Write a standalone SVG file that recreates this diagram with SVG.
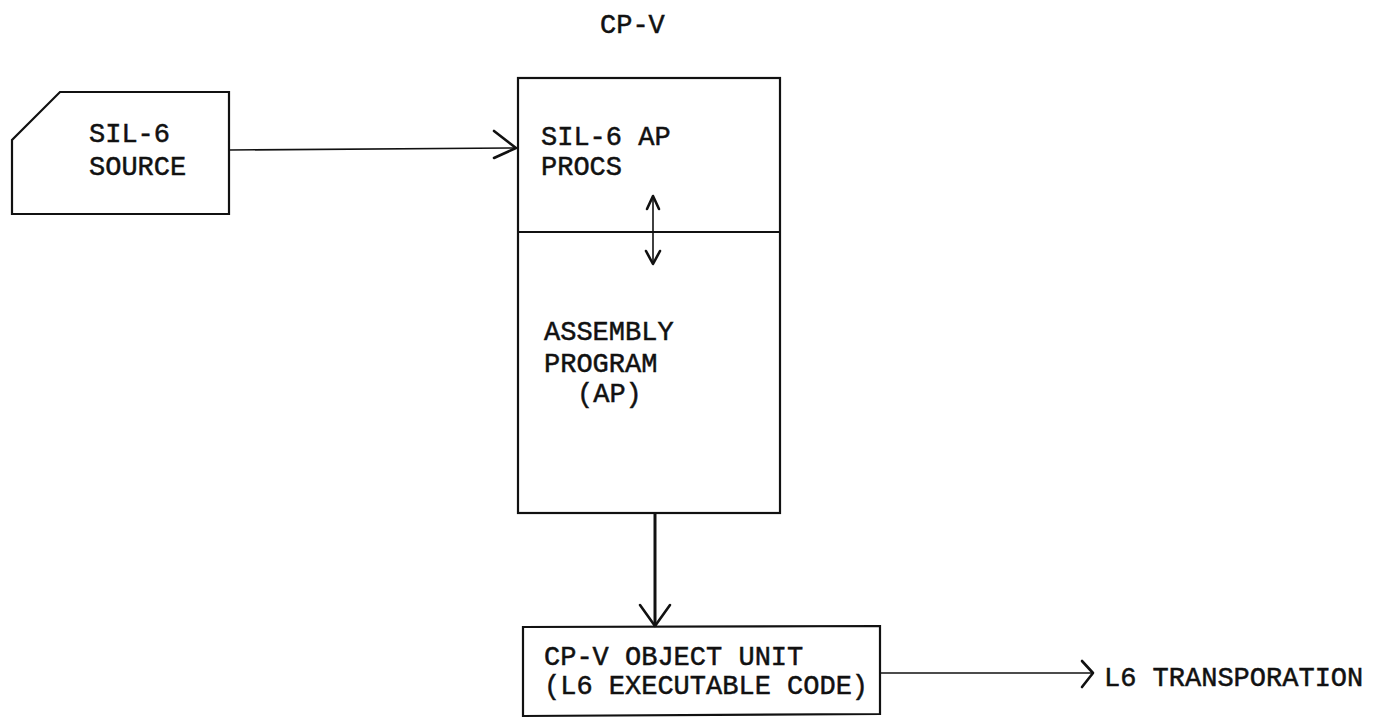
<svg xmlns="http://www.w3.org/2000/svg" width="1379" height="723" viewBox="0 0 1379 723">
<style>
text{font-family:"Liberation Mono","DejaVu Sans Mono",monospace;font-size:27px;fill:#111;stroke:#111;stroke-width:0.5}
.box{fill:none;stroke:#111;stroke-width:2.2}
.ln{fill:none;stroke:#111;stroke-width:1.6}
.div{fill:none;stroke:#111;stroke-width:2}
.thick{fill:none;stroke:#111;stroke-width:3}
.head{fill:none;stroke:#111;stroke-width:2.6;stroke-linecap:round;stroke-linejoin:round}
</style>
<rect width="1379" height="723" fill="#fff"/>
<g id="title"><text x="600" y="33">CP-V</text></g>
<g id="sil6-source">
<path class="box" d="M60,92 L229,92 L229,214 L12,214 L12,140 Z"/>
<text x="89" y="142">SIL-6</text>
<text x="89" y="175">SOURCE</text>
</g>
<g id="cpv-box">
<rect class="box" x="518" y="78" width="262" height="435"/>
<line class="div" x1="518" y1="232" x2="780" y2="232"/>
</g>
<g id="sil6-ap-procs">
<text x="541" y="145">SIL-6 AP</text>
<text x="541" y="175">PROCS</text>
</g>
<g id="assembly-program">
<text x="544" y="340">ASSEMBLY</text>
<text x="544" y="372">PROGRAM</text>
<text x="577" y="402">(AP)</text>
</g>
<g id="object-unit">
<path class="box" d="M523,627 L880,626 L880,714 L523,716 Z"/>
<text x="544" y="665">CP-V OBJECT UNIT</text>
<text x="544" y="694">(L6 EXECUTABLE CODE)</text>
</g>
<g id="l6-transporation">
<text x="1104" y="686">L6 TRANSPORATION</text>
</g>
<g id="connectors">
<line class="ln" x1="229" y1="150" x2="517" y2="148"/>
<path class="head" d="M494,131 L516,148 L494,158"/>
<line class="ln" x1="653" y1="196" x2="653" y2="264"/>
<path class="head" d="M647,209 L653,196 L659,209"/>
<path class="head" d="M646,251 L653,264 L660,251"/>
<line class="thick" x1="655" y1="513" x2="655" y2="626"/>
<path class="head" d="M640,605 L655,626 L670,605"/>
<line class="ln" x1="880" y1="673" x2="1092" y2="673"/>
<path class="head" d="M1082,661 L1093,673 L1082,687"/>
</g>
</svg>
